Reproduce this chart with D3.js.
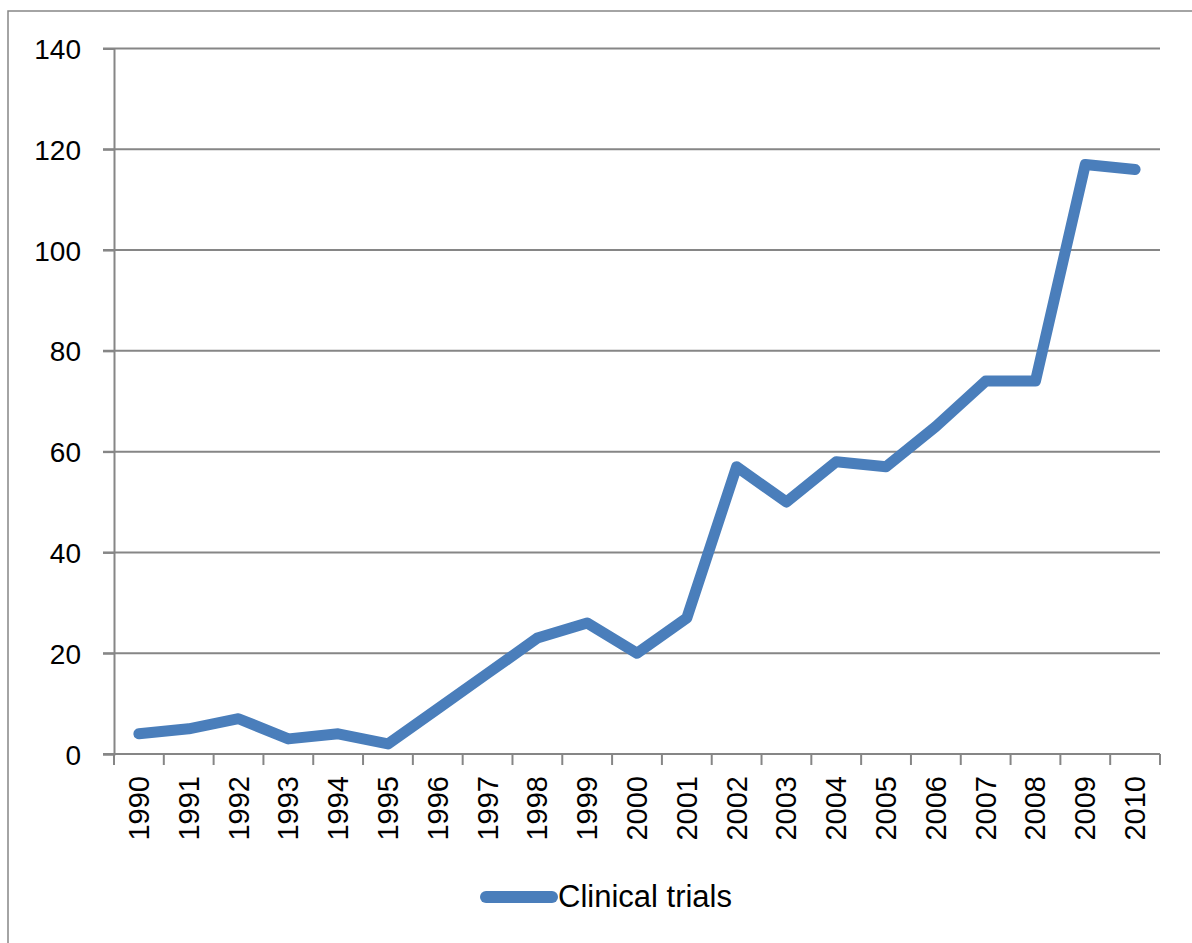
<!DOCTYPE html>
<html>
<head>
<meta charset="utf-8">
<script src="https://cdn.jsdelivr.net/npm/d3@7"></script>
<style>
  body { margin: 0; background: #fff; }
  svg { display: block; font-family: "Liberation Sans", Arial, sans-serif; }
</style>
</head>
<body>
<div id="chart"></div>
<script>
// data
var years = ["1990","1991","1992","1993","1994","1995","1996","1997","1998","1999",
             "2000","2001","2002","2003","2004","2005","2006","2007","2008","2009","2010"];
var trials = [4, 5, 7, 3, 4, 2, 9, 16, 23, 26, 20, 27, 57, 50, 58, 57, 65, 74, 74, 117, 116];
var yTicks = [0, 20, 40, 60, 80, 100, 120, 140];
var seriesName = "Clinical trials";

var W = 1192, H = 943;
var plotLeft = 114, plotRight = 1160, plotTop = 48.5, plotBottom = 754;
var gray = "#868686", blue = "#4a7ebb";

var svg = d3.select("#chart").append("svg")
  .attr("width", W)
  .attr("height", H);

// chart border (only top and left show in the frame)
svg.append("rect")
  .attr("x", 8).attr("y", 11)
  .attr("width", W + 20).attr("height", H + 20)
  .attr("fill", "none")
  .attr("stroke", gray)
  .attr("stroke-width", 1.5);

var x = d3.scaleBand().domain(years).range([plotLeft, plotRight]).padding(0);
var y = d3.scaleLinear().domain([0, 140]).range([plotBottom, plotTop]);

// gridlines
svg.append("g").selectAll("line")
  .data(yTicks.filter(function(d){ return d > 0; }))
  .enter().append("line")
  .attr("x1", plotLeft - 11).attr("x2", plotRight)
  .attr("y1", function(d){ return y(d); })
  .attr("y2", function(d){ return y(d); })
  .attr("stroke", gray)
  .attr("stroke-width", 2);

// y axis
var yAxis = svg.append("g")
  .attr("transform", "translate(" + plotLeft + ",0)")
  .call(d3.axisLeft(y).tickValues(yTicks).tickSize(11).tickPadding(22));
yAxis.select(".domain").attr("stroke", gray).attr("stroke-width", 2);
yAxis.selectAll(".tick line").attr("stroke", gray).attr("stroke-width", 2);
yAxis.selectAll("text")
  .attr("fill", "#000")
  .style("font-size", "28px")
  .attr("dy", "0.36em");

// x axis: ticks between categories
var bounds = years.map(function(d){ return x(d); }).concat([plotRight]);
var xg = svg.append("g");
xg.append("line")
  .attr("x1", plotLeft - 11).attr("x2", plotRight)
  .attr("y1", plotBottom).attr("y2", plotBottom)
  .attr("stroke", gray).attr("stroke-width", 2);
xg.selectAll(".tk")
  .data(bounds)
  .enter().append("line")
  .attr("class", "tk")
  .attr("x1", function(d){ return d; })
  .attr("x2", function(d){ return d; })
  .attr("y1", plotBottom).attr("y2", plotBottom + 11)
  .attr("stroke", gray).attr("stroke-width", 2);
xg.selectAll("text")
  .data(years)
  .enter().append("text")
  .attr("transform", function(d){
    return "translate(" + (x(d) + x.bandwidth()/2 + 10) + "," + (plotBottom + 22) + ") rotate(-90)";
  })
  .attr("text-anchor", "end")
  .style("font-size", "29px")
  .attr("fill", "#000")
  .text(function(d){ return d; });

// series line
var line = d3.line()
  .x(function(d, i){ return x(years[i]) + x.bandwidth()/2; })
  .y(function(d){ return y(d); });

svg.append("path")
  .datum(trials)
  .attr("d", line)
  .attr("fill", "none")
  .attr("stroke", blue)
  .attr("stroke-width", 11)
  .attr("stroke-linejoin", "round")
  .attr("stroke-linecap", "round");

// legend
svg.append("line")
  .attr("x1", 486).attr("x2", 552)
  .attr("y1", 897).attr("y2", 897)
  .attr("stroke", blue)
  .attr("stroke-width", 12)
  .attr("stroke-linecap", "round");
svg.append("text")
  .attr("x", 558).attr("y", 907)
  .style("font-size", "31px")
  .attr("fill", "#000")
  .text(seriesName);
</script>
</body>
</html>
